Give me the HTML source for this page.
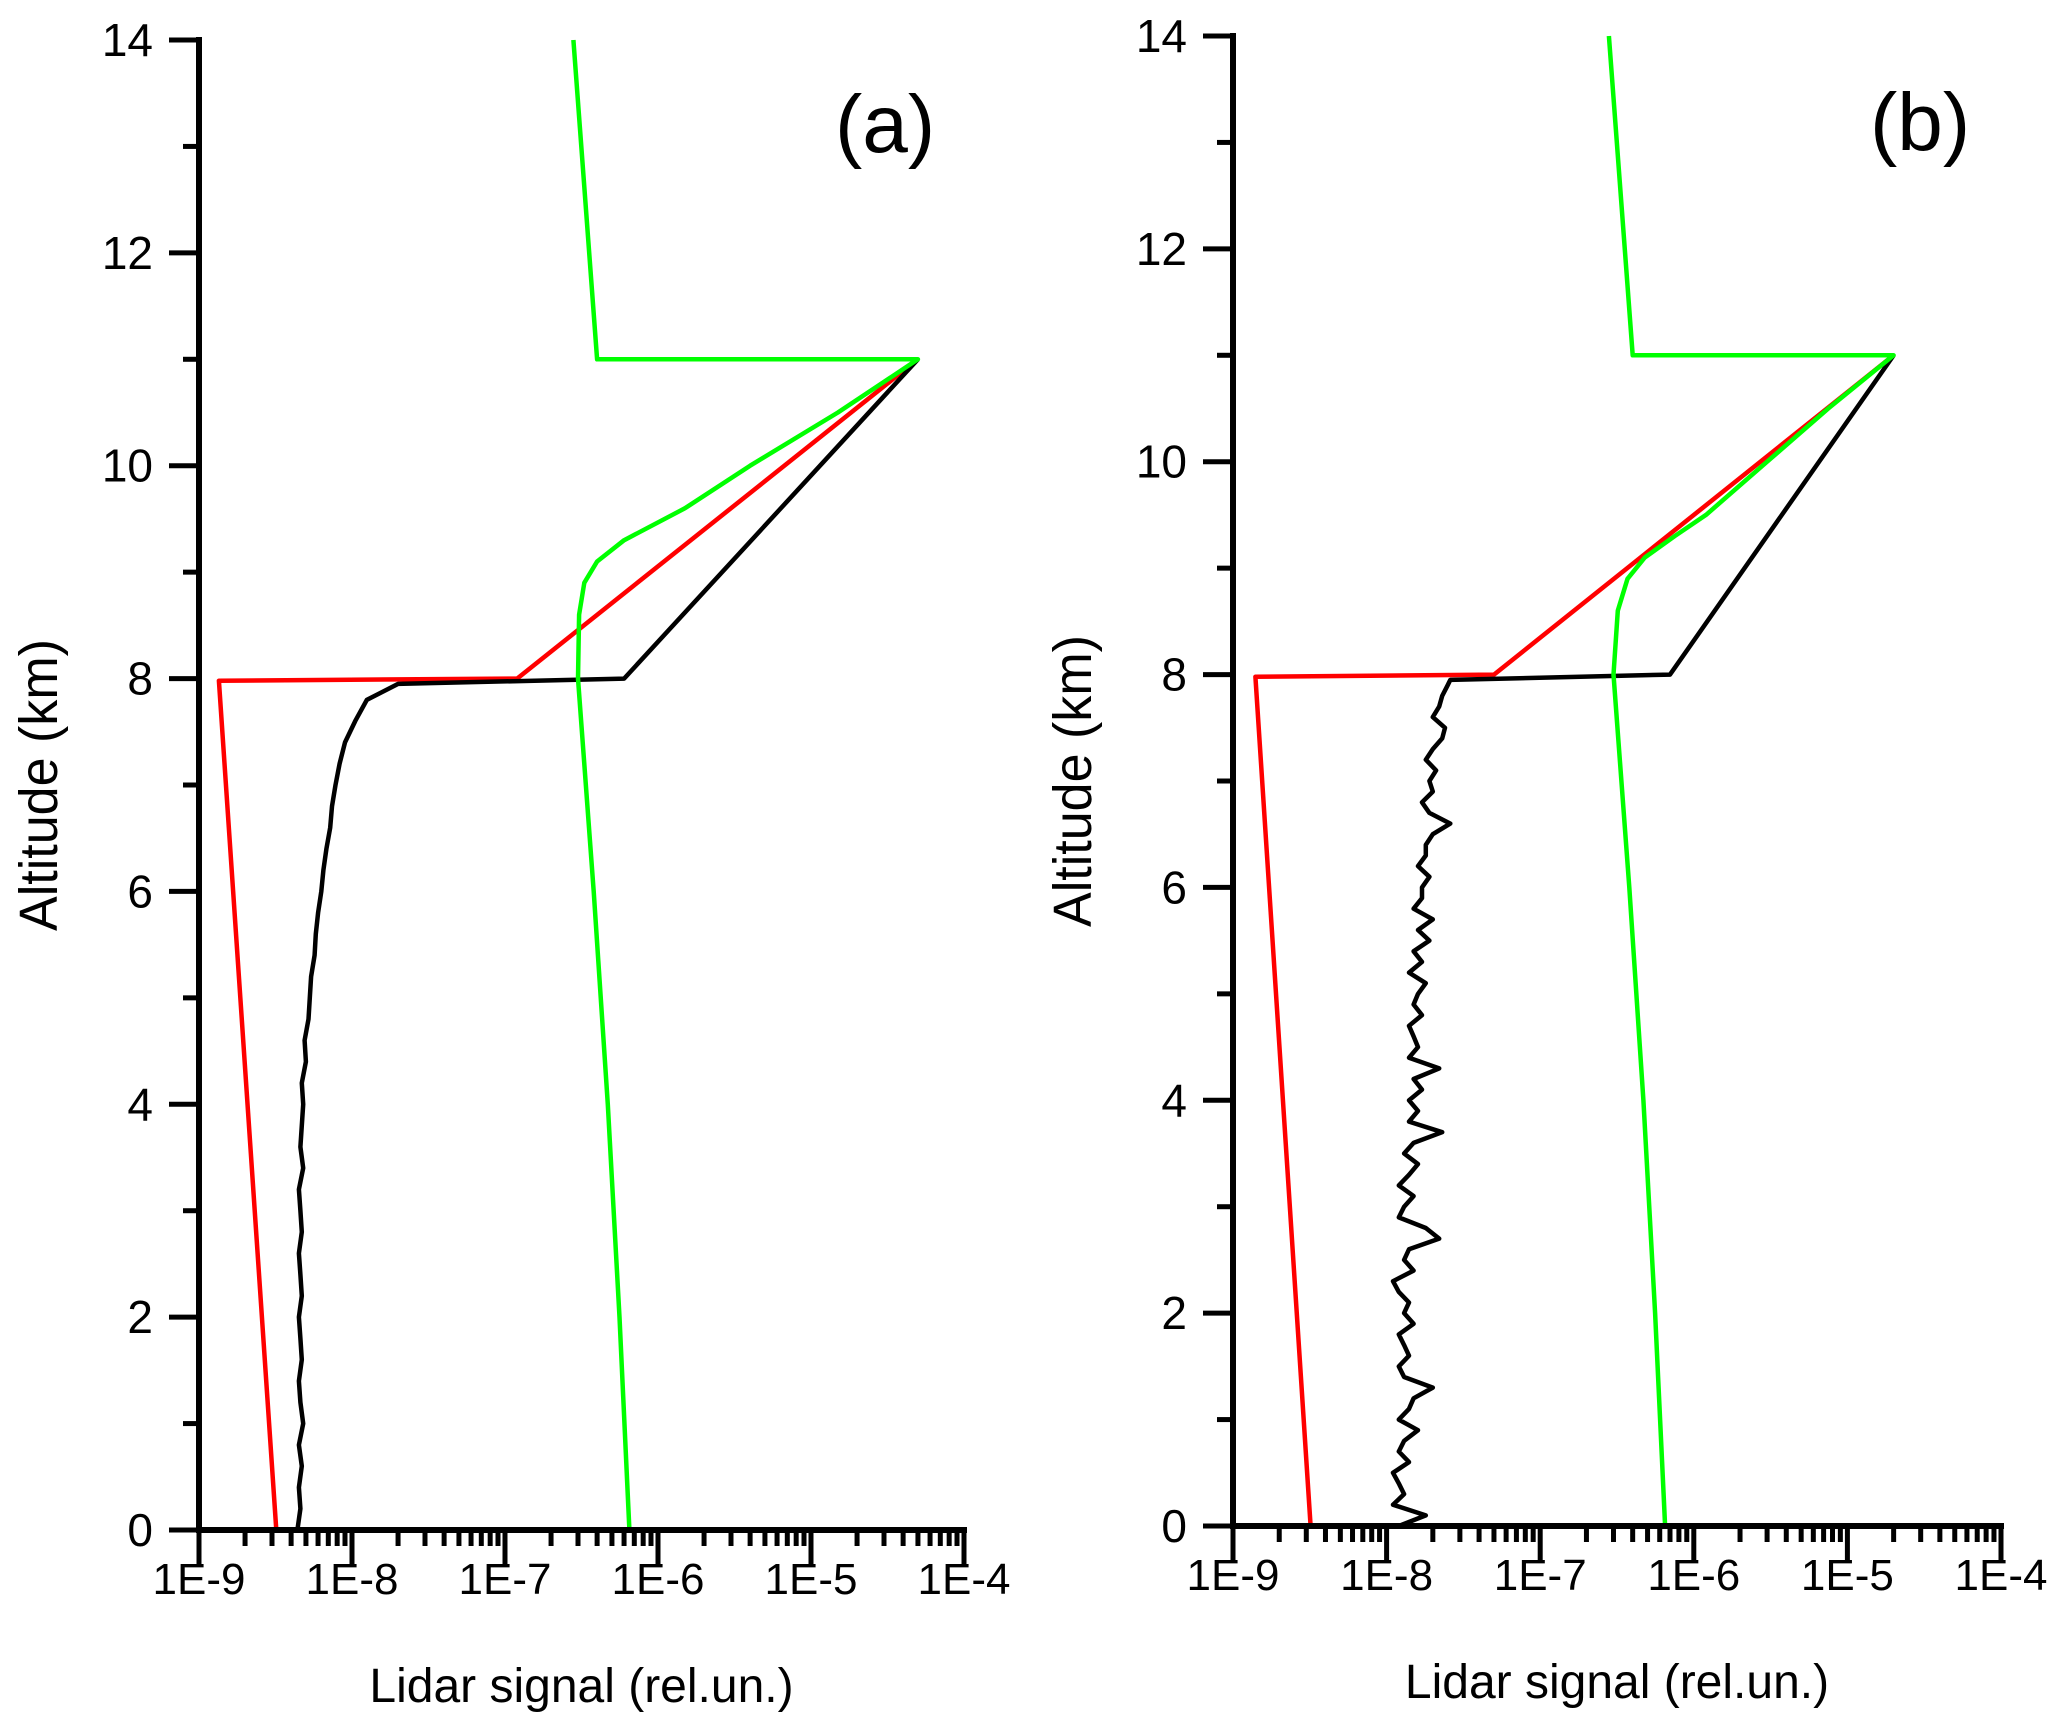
<!DOCTYPE html>
<html><head><meta charset="utf-8">
<style>
html,body{margin:0;padding:0;background:#fff;}
svg{display:block;font-family:"Liberation Sans",Arial,sans-serif;}
</style></head>
<body>
<svg id="chart" width="2067" height="1735" viewBox="0 0 2067 1735" xmlns="http://www.w3.org/2000/svg"></svg>
<script>
// ---------- data (values in relative units, altitudes in km) ----------
const yTicks = [0,2,4,6,8,10,12,14];
const xTickLabels = ["1E-9","1E-8","1E-7","1E-6","1E-5","1E-4"];
const xDecades = [-9,-8,-7,-6,-5,-4];

// Panel (a)
const aRedAlt = [0, 7.98, 8.0, 11.0];
const aRedVal = [3.2e-9, 1.35e-9, 1.2e-7, 5e-5];
const aBlackAlt = [0,0.2,0.4,0.6,0.8,1.0,1.2,1.4,1.6,1.8,2.0,2.2,2.4,2.6,2.8,3.0,3.2,3.4,3.6,3.8,4.0,4.2,4.4,4.6,4.8,5.0,5.2,5.4,5.6,5.8,6.0,6.2,6.4,6.6,6.8,7.0,7.2,7.4,7.6,7.8,7.95,8.0,11.0];
const aBlackVal = [4.4e-9,4.6e-9,4.5e-9,4.7e-9,4.5e-9,4.8e-9,4.6e-9,4.5e-9,4.7e-9,4.6e-9,4.5e-9,4.7e-9,4.6e-9,4.5e-9,4.7e-9,4.6e-9,4.5e-9,4.8e-9,4.6e-9,4.7e-9,4.8e-9,4.7e-9,5.0e-9,4.9e-9,5.2e-9,5.3e-9,5.4e-9,5.7e-9,5.8e-9,6.0e-9,6.3e-9,6.5e-9,6.8e-9,7.2e-9,7.4e-9,7.8e-9,8.3e-9,9.0e-9,1.05e-8,1.25e-8,2.0e-8,6e-7,5e-5];
const aGreenAlt = [0,2,4,6,8,8.6,8.9,9.1,9.3,9.6,10.0,10.5,11.0,11.0,14.0];
const aGreenVal = [6.5e-7,5.6e-7,4.7e-7,3.8e-7,3.0e-7,3.05e-7,3.3e-7,4.0e-7,6e-7,1.5e-6,4e-6,1.5e-5,5e-5,4e-7,2.8e-7];

// Panel (b)
const bRedAlt = [0, 7.98, 8.0, 11.0];
const bRedVal = [3.2e-9, 1.4e-9, 5e-8, 2e-5];
const bBlackAlt = [0,0.1,0.2,0.3,0.4,0.5,0.6,0.7,0.8,0.9,1.0,1.1,1.2,1.3,1.4,1.5,1.6,1.7,1.8,1.9,2.0,2.1,2.2,2.3,2.4,2.5,2.6,2.7,2.8,2.9,3.0,3.1,3.2,3.3,3.4,3.5,3.6,3.7,3.8,3.9,4.0,4.1,4.2,4.3,4.4,4.5,4.6,4.7,4.8,4.9,5.0,5.1,5.2,5.3,5.4,5.5,5.6,5.7,5.8,5.9,6.0,6.1,6.2,6.3,6.4,6.5,6.6,6.7,6.8,6.9,7.0,7.1,7.2,7.3,7.4,7.5,7.6,7.7,7.8,7.9,7.95,8.0,11.0];
const bBlackVal = [1.2e-8,1.8e-8,1.1e-8,1.3e-8,1.2e-8,1.1e-8,1.4e-8,1.2e-8,1.3e-8,1.6e-8,1.2e-8,1.4e-8,1.5e-8,2.0e-8,1.3e-8,1.2e-8,1.4e-8,1.3e-8,1.2e-8,1.5e-8,1.3e-8,1.4e-8,1.2e-8,1.1e-8,1.5e-8,1.3e-8,1.4e-8,2.2e-8,1.8e-8,1.2e-8,1.3e-8,1.5e-8,1.2e-8,1.4e-8,1.6e-8,1.3e-8,1.5e-8,2.3e-8,1.4e-8,1.6e-8,1.4e-8,1.7e-8,1.5e-8,2.2e-8,1.4e-8,1.6e-8,1.5e-8,1.4e-8,1.7e-8,1.5e-8,1.6e-8,1.8e-8,1.4e-8,1.7e-8,1.5e-8,1.9e-8,1.6e-8,2.0e-8,1.5e-8,1.7e-8,1.7e-8,1.9e-8,1.6e-8,1.8e-8,1.8e-8,2.0e-8,2.6e-8,1.9e-8,1.7e-8,2.0e-8,1.9e-8,2.1e-8,1.8e-8,2.0e-8,2.3e-8,2.4e-8,2.0e-8,2.2e-8,2.3e-8,2.5e-8,2.6e-8,7e-7,2e-5];
const bGreenAlt = [0,2,4,6,8,8.6,8.9,9.1,9.3,9.5,10.0,10.5,11.0,11.0,14.0];
const bGreenVal = [6.5e-7,5.6e-7,4.7e-7,3.8e-7,3.0e-7,3.2e-7,3.7e-7,4.8e-7,7.5e-7,1.2e-6,3e-6,7.5e-6,2e-5,4e-7,2.8e-7];

// ---------- layout ----------
const NS = "http://www.w3.org/2000/svg";
const svg = document.getElementById("chart");
function mk(tag, attrs, parent){
  const e = document.createElementNS(NS, tag);
  for (const k in attrs) e.setAttribute(k, attrs[k]);
  (parent||svg).appendChild(e);
  return e;
}

const panels = [
  {id:"a", x0:199, y0:1530, y14:40, dec:153, label:"(a)", lx:835, ly:152,
   red:[aRedAlt,aRedVal], black:[aBlackAlt,aBlackVal], green:[aGreenAlt,aGreenVal]},
  {id:"b", x0:1233, y0:1526, y14:36, dec:153.6, label:"(b)", lx:1870, ly:150,
   red:[bRedAlt,bRedVal], black:[bBlackAlt,bBlackVal], green:[bGreenAlt,bGreenVal]}
];

panels.forEach(p => {
  const g = mk("g", {});
  
  
  const xs = v => p.x0 + (Math.log10(v) + 9) * p.dec;
  const ys = a => p.y0 - a * (p.y0 - p.y14) / 14;
  const xEnd = p.x0 + 5 * p.dec;

  [["red","#ff0000",p.red],["black","#000000",p.black],["green","#00ff00",p.green]].forEach(s => {
    const alt = s[2][0], val = s[2][1];
    let d = "";
    for (let i = 0; i < alt.length; i++) d += (i ? "L" : "M") + xs(val[i]).toFixed(1) + "," + ys(alt[i]).toFixed(1);
    const path = mk("path", {d:d, fill:"none", stroke:s[1], "stroke-width":4.5, "stroke-linejoin":"round"}, g);
    
    
  });

  const yAxis = mk("line", {x1:p.x0, y1:p.y0+3, x2:p.x0, y2:p.y14-3, stroke:"#000", "stroke-width":6}, g);
  
  
  const xAxis = mk("line", {x1:p.x0-3, y1:p.y0, x2:xEnd+3, y2:p.y0, stroke:"#000", "stroke-width":6}, g);
  
  

  for (let a = 0; a <= 14; a++) {
    const major = a % 2 === 0;
    mk("line", {x1:p.x0 - (major ? 30 : 16), y1:ys(a), x2:p.x0, y2:ys(a), stroke:"#000", "stroke-width":5}, g);
  }
  yTicks.forEach(a => {
    const t = mk("text", {x:p.x0 - 46, y:ys(a) + 16, "font-size":46, "text-anchor":"end", fill:"#000"}, g);
    t.textContent = a;
    
    
  });
  for (let d = 0; d < 5; d++) {
    for (let m = 2; m <= 9; m++) {
      const x = xs(Math.pow(10, xDecades[d]) * m);
      mk("line", {x1:x, y1:p.y0, x2:x, y2:p.y0+16, stroke:"#000", "stroke-width":5}, g);
    }
  }
  xDecades.forEach((e, i) => {
    const x = xs(Math.pow(10, e));
    mk("line", {x1:x, y1:p.y0, x2:x, y2:p.y0+34, stroke:"#000", "stroke-width":5}, g);
    const t = mk("text", {x:x, y:p.y0 + 64, "font-size":44, "text-anchor":"middle", fill:"#000"}, g);
    t.textContent = xTickLabels[i];
    
    
  });
  const xt = mk("text", {x:p.x0 + 2.5 * p.dec, y:p.y0 + 172, "font-size":48, "text-anchor":"middle", fill:"#000"}, g);
  xt.textContent = "Lidar signal (rel.un.)";
  
  
  const ycx = p.x0 - 160, ycy = (p.y0 + p.y14) / 2;
  const yt = mk("text", {x:ycx, y:ycy, "font-size":54, "text-anchor":"middle", fill:"#000",
    transform:"rotate(-90 " + ycx + " " + ycy + ") translate(0 18)", textLength:292, lengthAdjust:"spacingAndGlyphs"}, g);
  yt.textContent = "Altitude (km)";
  
  
  const pl = mk("text", {x:p.lx, y:p.ly, "font-size":82, fill:"#000"}, g);
  pl.textContent = p.label;
  
  
});
</script>
</body></html>
